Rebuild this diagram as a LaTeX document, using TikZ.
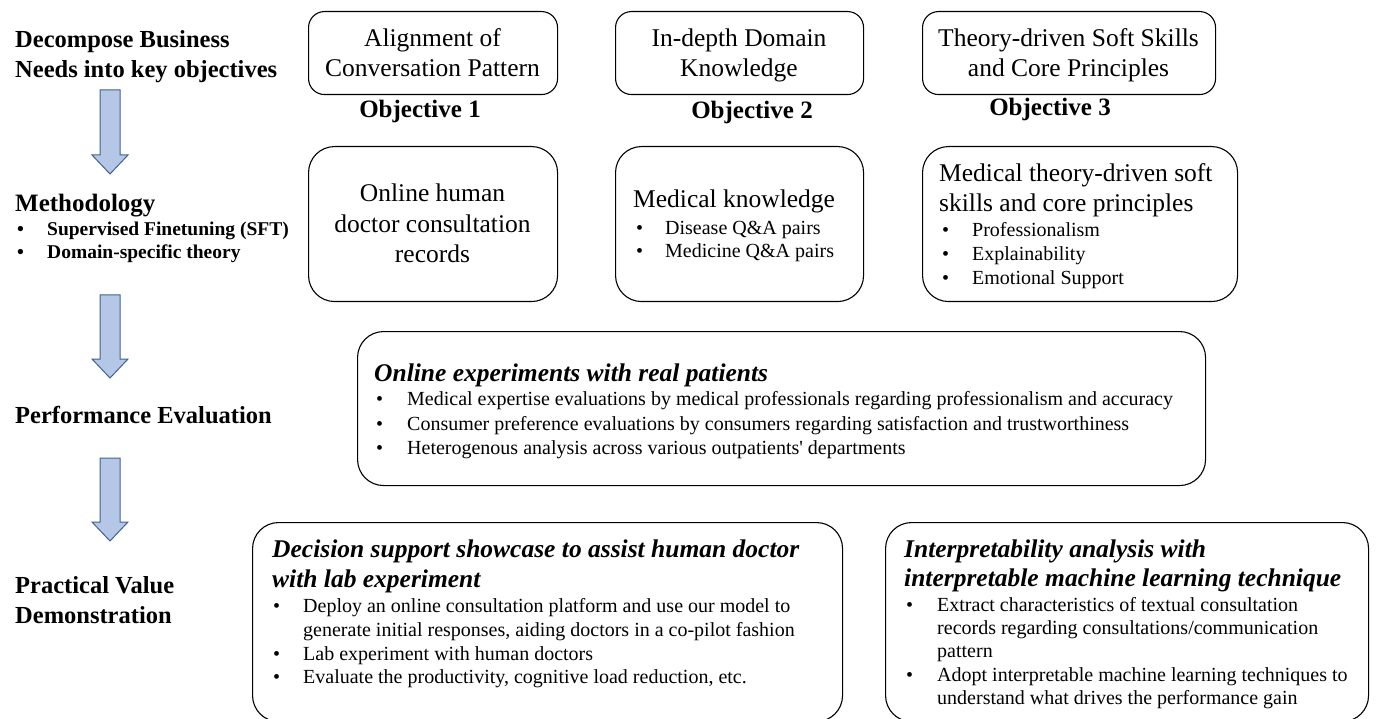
\documentclass[tikz,border=0pt]{standalone}
\usepackage{fontspec}
\setmainfont{Liberation Serif}
\newfontfamily\rawserif{Liberation Serif}
\definecolor{arrowfill}{HTML}{B4C7E7}
\definecolor{arrowline}{HTML}{41628F}
\newcommand\bulgap[1]{\makebox[#1pt][l]{\textbullet}}
\newcommand\blockarrow[3]{%
  \draw[barrow] (#1-10,#2) -- (#1+10,#2) -- (#1+10,#3-19) -- (#1+18,#3-19)
    -- (#1,#3) -- (#1-18,#3-19) -- (#1-10,#3-19) -- cycle;}
\tikzset{
  rbox/.style={draw=black, line width=1.1pt, rounded corners=16pt, inner sep=0pt, anchor=north west},
  rboxL/.style={rbox, rounded corners=26pt},
  barrow/.style={fill=arrowfill, draw=arrowline, line width=1pt, line join=miter},
  txt/.style={inner sep=0pt, anchor=base west},
  ctxt/.style={inner sep=0pt, anchor=base},
  lab/.style={txt, font=\bfseries\fontsize{24.5}{30}\selectfont},
  lbul/.style={txt, font=\bfseries\fontsize{19.5}{23}\selectfont},
  big/.style={font=\fontsize{25.5}{30}\selectfont},
  obj/.style={ctxt, font=\bfseries\fontsize{25}{30}\selectfont},
  head/.style={txt, font=\bfseries\itshape\fontsize{25.5}{30}\selectfont},
  bul/.style={txt, font=\fontsize{20}{24}\selectfont},
}
\begin{document}
\begin{tikzpicture}[x=1pt,y=-1pt]
\useasboundingbox (0,0) rectangle (1376,719);

% ---------- left column ----------
\node[lab] (l1a) at (15,48) {Decompose Business};
\node[lab] (l1b) at (15,78) {Needs into key objectives};
\blockarrow{110}{90}{174}
\node[lab, font=\bfseries\fontsize{25}{30}\selectfont] (l2) at (15,212) {Methodology};
\node[lbul] (l2a) at (17,236) {\bulgap{30}Supervised Finetuning (SFT)};
\node[lbul] (l2b) at (17,259) {\bulgap{30}Domain-specific theory};
\blockarrow{110}{295}{378}
\node[lab] (l3) at (15,423) {Performance Evaluation};
\blockarrow{110}{458}{541}
\node[lab] (l4a) at (15,593) {Practical Value};
\node[lab] (l4b) at (15,623) {Demonstration};

% ---------- objectives ----------
\node[rbox, minimum width=249pt, minimum height=83pt] (o1) at (308,11) {};
\node[rbox, minimum width=248pt, minimum height=83pt] (o2) at (615,11) {};
\node[rbox, minimum width=293pt, minimum height=83pt] (o3) at (922,11) {};
\node[ctxt, big] (o1a) at (432.5,47) {Alignment of};
\node[ctxt, big] (o1b) at (432.5,77) {Conversation Pattern};
\node[ctxt, big] (o2a) at (739,47) {In-depth Domain};
\node[ctxt, big] (o2b) at (739,77) {Knowledge};
\node[ctxt, big] (o3a) at (1068.5,47) {Theory-driven Soft Skills};
\node[ctxt, big] (o3b) at (1068.5,77) {and Core Principles};
\node[obj] (ob1) at (420,118) {Objective 1};
\node[obj] (ob2) at (752,119) {Objective 2};
\node[obj] (ob3) at (1050,116) {Objective 3};

% ---------- methodology boxes ----------
\node[rboxL, minimum width=249pt, minimum height=155pt] (m1) at (308,146) {};
\node[rboxL, minimum width=248pt, minimum height=155pt] (m2) at (615,146) {};
\node[rboxL, minimum width=315pt, minimum height=155pt] (m3) at (922,146) {};
\node[ctxt, big] (m1a) at (432.5,202) {Online human};
\node[ctxt, big] (m1b) at (432.5,233) {doctor consultation};
\node[ctxt, big] (m1c) at (432.5,263) {records};
\node[txt, big] (m2a) at (633,208) {Medical knowledge};
\node[bul] (m2b) at (636,235) {\bulgap{29}Disease Q\&A pairs};
\node[bul] (m2c) at (636,258) {\bulgap{29}Medicine Q\&A pairs};
\node[txt, big] (m3a) at (939,182) {Medical theory-driven soft};
\node[txt, big] (m3b) at (939,212) {skills and core principles};
\node[bul] (m3c) at (942,237) {\bulgap{30}Professionalism};
\node[bul] (m3d) at (942,261) {\bulgap{30}Explainability};
\node[bul] (m3e) at (942,285) {\bulgap{30}Emotional Support};

% ---------- performance evaluation ----------
\node[rboxL, minimum width=848pt, minimum height=154pt] (pe) at (357,331) {};
\node[head] (pea) at (374,381) {Online experiments with real patients};
\node[bul] (peb) at (376,405) {\bulgap{31}Medical expertise evaluations by medical professionals regarding professionalism and accuracy};
\node[bul] (pec) at (376,430) {\bulgap{31}Consumer preference evaluations by consumers regarding satisfaction and trustworthiness};
\node[bul] (ped) at (376,454) {\bulgap{31}Heterogenous analysis across various outpatients{\rawserif'} departments};

% ---------- practical value ----------
\node[rboxL, minimum width=590pt, minimum height=199pt] (pv1) at (252,522) {};
\node[head] (pv1a) at (272,557) {Decision support showcase to assist human doctor};
\node[head] (pv1b) at (272,587) {with lab experiment};
\node[bul] (pv1c) at (273,612) {\bulgap{30}Deploy an online consultation platform and use our model to};
\node[bul] (pv1d) at (303,636) {generate initial responses, aiding doctors in a co-pilot fashion};
\node[bul] (pv1e) at (273,660) {\bulgap{30}Lab experiment with human doctors};
\node[bul] (pv1f) at (273,683) {\bulgap{30}Evaluate the productivity, cognitive load reduction, etc.};

\node[rboxL, minimum width=483pt, minimum height=199pt] (pv2) at (885,522) {};
\node[head] (pv2a) at (904,557) {Interpretability analysis with};
\node[head] (pv2b) at (904,586) {interpretable machine learning technique};
\node[bul] (pv2c) at (906,611) {\bulgap{31}Extract characteristics of textual consultation};
\node[bul] (pv2d) at (937,634) {records regarding consultations/communication};
\node[bul] (pv2e) at (937,657) {pattern};
\node[bul] (pv2f) at (906,681) {\bulgap{31}Adopt interpretable machine learning techniques to};
\node[bul] (pv2g) at (937,704) {understand what drives the performance gain};
\end{tikzpicture}
\end{document}
